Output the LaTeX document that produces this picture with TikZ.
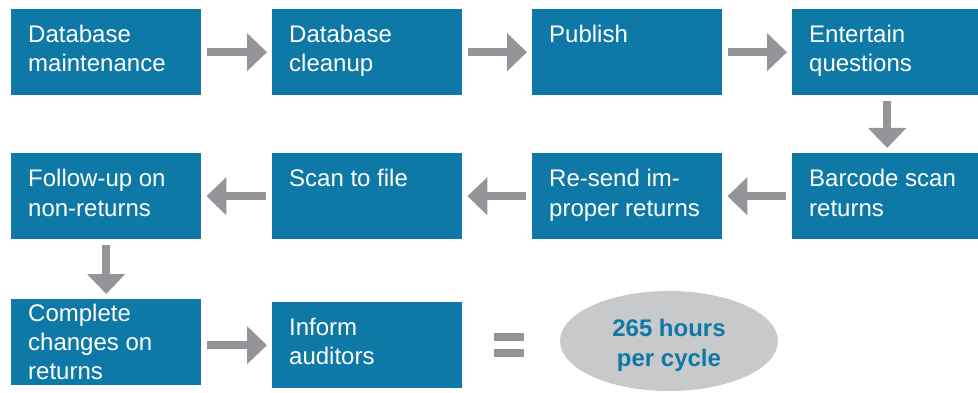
\documentclass[tikz,border=0pt]{standalone}
\usepackage{fontspec}
\setmainfont{Liberation Sans}
\usetikzlibrary{arrows.meta,calc,shapes.geometric}
\definecolor{boxblue}{RGB}{14,120,166}
\definecolor{arrgray}{RGB}{148,149,153}
\definecolor{ellgray}{RGB}{200,201,203}
\begin{document}
\begin{tikzpicture}[x=1pt,y=-1pt,
  stepbox/.style={draw=none,fill=boxblue,rectangle,inner sep=0pt,minimum width=190pt,minimum height=86pt,anchor=north west},
  boxtext/.style={anchor=base west,align=left,text=white,inner sep=0pt,font=\fontsize{24}{29}\selectfont},
  flow/.style={draw=arrgray,line width=8pt,-{Triangle[width=37pt,length=20pt]},shorten <=6pt,shorten >=5pt}]
\useasboundingbox (0,0) rectangle (978,393);
% row 1
\node[stepbox] (b1) at (11,9) {};
\node[stepbox] (b2) at (272,9) {};
\node[stepbox] (b3) at (532,9) {};
\node[stepbox] (b4) at (792,9) {};
% row 2
\node[stepbox] (b8) at (11,153) {};
\node[stepbox] (b7) at (272,153) {};
\node[stepbox] (b6) at (532,153) {};
\node[stepbox] (b5) at (792,153) {};
% row 3
\node[stepbox] (b9) at (11,299) {};
\node[stepbox] (b10) at (272,302) {};
% texts (anchored at the baseline of the last line)
\node[boxtext] (t1) at ([xshift=17pt,yshift=-63pt]b1.north west) {Database\\maintenance};
\node[boxtext] (t2) at ([xshift=17pt,yshift=-63pt]b2.north west) {Database\\cleanup};
\node[boxtext] (t3) at ([xshift=17pt,yshift=-34pt]b3.north west) {Publish};
\node[boxtext] (t4) at ([xshift=17pt,yshift=-63pt]b4.north west) {Entertain\\questions};
\node[boxtext] (t5) at ([xshift=17pt,yshift=-63pt]b5.north west) {Barcode scan\\returns};
\node[boxtext] (t6) at ([xshift=17pt,yshift=-63pt]b6.north west) {Re-send im-\\proper returns};
\node[boxtext] (t7) at ([xshift=17pt,yshift=-34pt]b7.north west) {Scan to file};
\node[boxtext] (t8) at ([xshift=17pt,yshift=-63pt]b8.north west) {Follow-up on\\non-returns};
\node[boxtext] (t9) at ([xshift=17pt,yshift=-80pt]b9.north west) {Complete\\changes on\\returns};
\node[boxtext] (t10) at ([xshift=17pt,yshift=-62pt]b10.north west) {Inform\\auditors};
% arrows
\draw[flow] (b1.east) -- (b2.west);
\draw[flow] (b2.east) -- (b3.west);
\draw[flow] (b3.east) -- (b4.west);
\draw[flow] (b4.south) -- (b5.north);
\draw[flow] (b5.west) -- (b6.east);
\draw[flow] (b6.west) -- (b7.east);
\draw[flow] (b7.west) -- (b8.east);
\draw[flow] (b8.south) -- (b9.north);
\draw[flow] (b9.east |- b10.west) -- (b10.west);
% equals sign
\fill[arrgray] (494,333) rectangle (524,341);
\fill[arrgray] (494,349) rectangle (524,357);
% result
\node[ellipse,fill=ellgray,minimum width=218pt,minimum height=100pt,inner sep=0pt] (res) at (669,341) {};
\node[align=center,text=boxblue,inner sep=0pt,anchor=base,font=\fontsize{24}{30}\selectfont\bfseries] (restext) at ([yshift=-25pt]res.center) {265 hours\\per cycle};
\end{tikzpicture}
\end{document}
